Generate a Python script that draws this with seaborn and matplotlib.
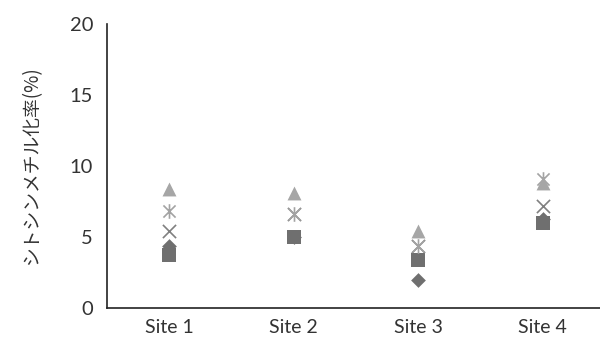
import numpy as np
import pandas as pd
import matplotlib
matplotlib.use("Agg")
import matplotlib.pyplot as plt
from matplotlib.path import Path
import seaborn as sns

sites = ["Site 1", "Site 2", "Site 3", "Site 4"]
diamond_vals = [4.4, 5.0, 2.0, 6.3]
square_vals = [3.7, 5.0, 3.4, 6.0]
cross_vals = [5.4, 6.6, 4.4, 7.2]
star_vals = [6.8, 6.6, 4.4, 9.1]
triangle_vals = [8.4, 8.1, 5.4, 8.8]

ylabel = "シトシンメチル化率(%)"
yticks = [0, 5, 10, 15, 20]

sns.set_theme(style="white")
plt.rcParams["font.family"] = ["Lato", "Noto Sans CJK JP", "DejaVu Sans"]

# asterisk marker: an x with a vertical bar
a = 0.5
star_path = Path(
    [(-a, -a), (a, a), (-a, a), (a, -a), (0, -0.6), (0, 0.6)],
    [Path.MOVETO, Path.LINETO, Path.MOVETO, Path.LINETO, Path.MOVETO, Path.LINETO],
)

fig = plt.figure(figsize=(6.0, 3.41), dpi=100)
ax = fig.add_axes([107 / 600, 33 / 341, 498 / 600, 284 / 341])

series = [
    ("diamond", diamond_vals, "D", "#6f6f6f", 7.5, True),
    ("square", square_vals, "s", "#6f6f6f", 9.5, True),
    ("cross", cross_vals, "x", "#808080", 9.5, False),
    ("star", star_vals, star_path, "#a3a3a3", 10.5, False),
    ("triangle", triangle_vals, "^", "#a6a6a6", 10, True),
]

for name, vals, mk, col, size, filled in series:
    df = pd.DataFrame({"site": sites, "value": vals})
    if filled:
        sns.stripplot(data=df, x="site", y="value", order=sites, jitter=False,
                      marker=mk, color=col, size=size, linewidth=0, ax=ax, zorder=3)
    else:
        sns.stripplot(data=df, x="site", y="value", order=sites, jitter=False,
                      marker=mk, color=col, edgecolor=col, size=size,
                      linewidth=1.2, ax=ax, zorder=3)

ax.set_xlim(-0.5, 3.5)
ax.set_ylim(0, 20)
ax.set_yticks(yticks)
ax.set_xlabel("")
ax.set_ylabel(ylabel, fontsize=13.5, color="#333333", labelpad=20,
              family=["Noto Sans CJK JP", "DejaVu Sans"])

for s in ["top", "right"]:
    ax.spines[s].set_visible(False)
for s in ["left", "bottom"]:
    ax.spines[s].set_color("#222222")
    ax.spines[s].set_linewidth(1.2)

ax.set_xticks(np.arange(-0.5, 3.6, 1.0), minor=True)
ax.tick_params(axis="x", which="major", length=0, labelsize=14, labelcolor="#333333", pad=8)
ax.tick_params(axis="x", which="minor", length=4, width=1.2, color="#222222", direction="out")
ax.tick_params(axis="y", length=5, width=1.2, color="#222222", direction="out",
               labelsize=14.5, labelcolor="#333333", pad=5)

fig.savefig("out.png", dpi=100)
